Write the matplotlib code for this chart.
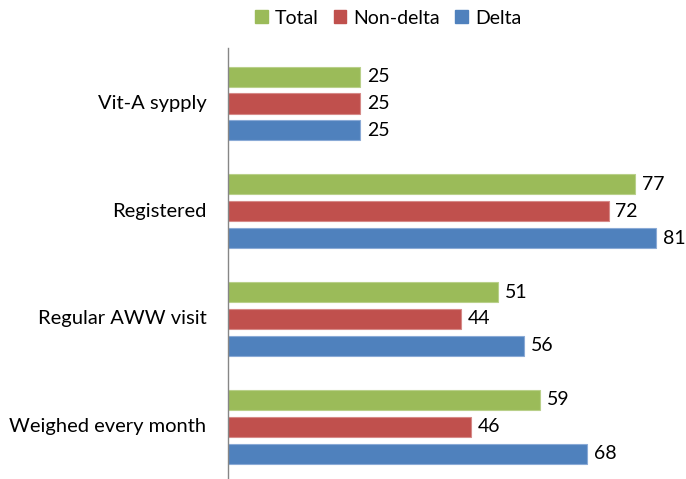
import matplotlib; matplotlib.use("Agg")
import matplotlib.pyplot as plt
from matplotlib.patches import Patch
import numpy as np

categories = ["Vit-A sypply", "Registered", "Regular AWW visit", "Weighed every month"]
total = [25, 77, 51, 59]
non_delta = [25, 72, 44, 46]
delta = [25, 81, 56, 68]
series_names = ["Total", "Non-delta", "Delta"]
colors = ["#9BBB59", "#C0504D", "#4F81BD"]
edges = ["#B9D08A", "#D68A88", "#8AAAD6"]

plt.rcParams["font.family"] = ["Lato", "DejaVu Sans"]

fig = plt.figure(figsize=(6.86, 4.79), dpi=100)
ax = fig.add_axes([228/686, 0, 1 - 228/686, 431/479])

y = np.arange(len(categories))
h = 0.186
offs = [-0.25, 0, 0.25]
for vals, off, c, ec in zip([total, non_delta, delta], offs, colors, edges):
    bars = ax.barh(y + off + 0.015, vals, height=h, color=c, edgecolor=ec, linewidth=0.8)
    for b, v in zip(bars, vals):
        ax.text(v + 1.3, b.get_y() + h/2, str(v), va="center", ha="left",
                fontsize=14, color="black")

ax.set_xlim(0, 458/5.286)
ax.set_ylim(3.5, -0.5)
ax.set_yticks(y)
ax.set_yticklabels(categories, fontsize=14.5)
ax.tick_params(axis="y", length=0, pad=15.5)
ax.set_xticks([])
for s in ["top", "right", "bottom"]:
    ax.spines[s].set_visible(False)
ax.spines["left"].set_color("#868686")
ax.spines["left"].set_linewidth(1)

handles = [Patch(facecolor=c, edgecolor=c) for c in colors]
fig.legend(handles, series_names, loc="center", bbox_to_anchor=(388/686, 1 - 18/479),
           ncol=3, frameon=False, fontsize=14, handlelength=0.65, handleheight=0.65,
           handletextpad=0.35, columnspacing=0.8)

fig.savefig("out.png", dpi=100)
